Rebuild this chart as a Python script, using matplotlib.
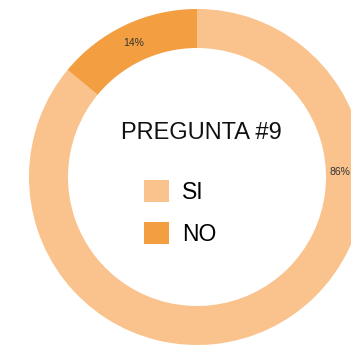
import matplotlib
matplotlib.use("Agg")
import matplotlib.pyplot as plt

# Survey answers for question 9
categories = ["SI", "NO"]
values = [86, 14]
colors = ["#FAC28C", "#F49E42"]
title = "PREGUNTA #9"

plt.rcParams["font.family"] = ["Liberation Sans", "DejaVu Sans"]

W, H = 351, 348
fig = plt.figure(figsize=(W / 100, H / 100), dpi=100)
ax = fig.add_axes([0, 0, 1, 1])

cx, cy = 197, 171
R, ring = 168, 39

wedges, texts, autotexts = ax.pie(
    values,
    colors=colors,
    startangle=90,
    counterclock=False,
    center=(cx, cy),
    radius=R,
    wedgeprops=dict(width=ring, linewidth=0),
    autopct=lambda p: f"{p:.0f}%",
    pctdistance=(R - ring / 2) / R,
    textprops=dict(fontsize=7.5, color="#333333"),
)

# the SI share label sits on the right side of the ring
autotexts[0].set_position((W - 1, H - 172))
autotexts[0].set_ha("right")

ax.text(201, H - 133, title, ha="center", va="center",
        fontsize=17, color="#111111")

ax.legend(
    wedges, categories,
    loc="upper left",
    bbox_to_anchor=(144 / W, 1 - 180 / H),
    frameon=False,
    fontsize=16.5,
    handlelength=1.1,
    handleheight=1.1,
    handletextpad=0.55,
    labelspacing=0.8,
    borderaxespad=0,
    borderpad=0,
)

ax.set_xlim(0, W)
ax.set_ylim(0, H)
ax.set_aspect("auto")
ax.axis("off")

fig.savefig("out.png", dpi=100)
